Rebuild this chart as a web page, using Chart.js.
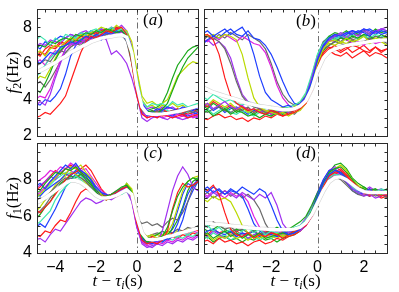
<!DOCTYPE html>
<html>
<head>
<meta charset="utf-8">
<script src="https://cdn.jsdelivr.net/npm/chart.js"></script>
<style>
	body{margin:0;background:#fff;width:399px;height:292px;overflow:hidden;position:relative}
	.box{position:absolute}
</style>
</head>
<body>
<div class="box" style="left:0;top:0;width:201px;height:140px"><canvas id="pa"></canvas></div>
<div class="box" style="left:200px;top:0;width:190px;height:140px"><canvas id="pb"></canvas></div>
<div class="box" style="left:0;top:138px;width:201px;height:154px"><canvas id="pc"></canvas></div>
<div class="box" style="left:200px;top:138px;width:190px;height:154px"><canvas id="pd"></canvas></div>

<script>
// time grid (s), shared by every trace
const tGrid = [-5,-4.75,-4.5,-4.25,-4,-3.75,-3.5,-3.25,-3,-2.75,-2.5,-2.25,-2,-1.75,-1.5,-1.25,-1,-0.75,-0.5,-0.25,0,0.25,0.5,0.75,1,1.25,1.5,1.75,2,2.25,2.5,2.75,3];
const xTicks = [-4,-2,0,2];
const yTicksTop = [2,4,6,8];
const yTicksBottom = [4,6,8];

const RED='#ff1a1a', GRN='#1aa81a', BLU='#1f3fff', PUR='#a030f0', AQU='#3ee8b0', LIM='#bada00', GRY='#6a6a6a', MAG='#e020e0';

// (a) f2
const meanA = [5.45,5.6,5.75,5.9,6.05,6.25,6.4,6.6,6.75,6.9,7.05,7.2,7.3,7.4,7.45,7.5,7.55,7.58,7.45,6.6,4.8,3.6,3.25,3.2,3.2,3.22,3.25,3.3,3.35,3.42,3.5,3.58,3.65];
const colorsA = [GRN,RED,BLU,PUR,AQU,LIM,GRY,MAG,RED,GRN,BLU,PUR,AQU,RED,LIM,BLU,MAG,GRY];
const tracesA = [
	[6.8,7.0,6.9,7.2,7.1,7.3,7.4,7.3,7.6,7.5,7.7,7.6,7.8,7.7,7.9,7.8,7.7,7.8,7.5,6.2,4.6,3.5,3.3,3.4,3.2,3.5,3.8,4.5,5.2,5.8,6.3,6.6,6.9],
	[3.0,3.1,3.3,3.2,3.5,3.8,4.2,5.0,5.8,6.6,7.2,7.5,7.4,7.6,7.8,7.7,7.9,8.0,7.6,6.0,4.2,3.2,3.0,3.1,3.0,3.2,3.1,3.0,3.1,3.2,3.0,3.1,3.2],
	[6.2,6.0,6.3,6.6,6.5,6.9,7.0,7.2,7.1,7.3,7.5,7.4,7.6,7.5,7.7,7.6,7.8,7.6,7.3,6.5,5.0,3.8,3.4,3.3,3.5,3.4,3.6,3.5,3.4,3.6,3.5,3.4,3.6],
	[3.6,3.9,3.7,4.3,5.2,6.0,6.8,7.1,7.0,7.3,7.2,7.5,7.4,7.6,7.3,6.5,6.7,6.4,6.0,5.2,4.2,3.0,2.8,3.0,3.1,3.0,2.9,3.1,3.0,2.9,3.0,3.1,3.0],
	[7.2,7.5,7.3,7.0,7.4,7.2,7.6,7.5,7.4,7.7,7.6,7.8,7.9,7.7,7.8,8.0,7.8,7.9,7.7,6.8,5.2,3.9,3.6,3.8,3.7,3.8,3.6,3.9,3.7,3.8,3.6,3.7,3.8],
	[6.5,6.7,6.4,6.8,7.0,6.9,7.2,7.4,7.3,7.6,7.5,7.7,7.8,8.0,7.9,7.8,8.1,7.9,7.8,7.2,5.6,4.2,3.8,3.9,3.7,3.8,4.0,4.6,5.3,5.6,5.9,6.1,6.0],
	[5.8,6.0,6.2,6.1,6.5,6.7,6.6,6.9,7.1,7.0,7.3,7.2,7.5,7.4,7.6,7.5,7.7,7.6,7.2,6.0,4.5,3.4,3.2,3.3,3.4,3.2,3.3,3.4,3.3,3.2,3.4,3.3,3.4],
	[4.0,4.2,4.1,4.6,5.4,6.2,6.8,7.0,7.2,7.1,7.4,7.3,7.6,7.5,7.7,7.6,7.8,7.7,7.4,6.3,4.8,3.4,3.0,3.1,3.0,3.2,3.1,3.0,3.2,3.1,3.0,3.2,3.1],
	[6.6,6.4,6.8,7.0,6.9,7.2,7.1,7.4,7.3,7.5,7.4,7.7,7.6,7.8,7.9,7.7,8.0,7.9,7.7,6.6,4.9,3.5,3.2,3.4,3.3,3.5,3.3,3.4,3.5,3.3,3.4,3.5,3.3],
	[4.6,4.4,4.9,5.5,6.2,6.7,7.0,7.1,7.3,7.2,7.5,7.4,7.6,7.8,7.7,7.9,7.8,7.6,7.5,6.8,5.0,3.6,3.4,3.5,3.6,3.8,4.4,5.2,5.9,6.3,6.7,6.9,7.0],
	[3.8,3.7,4.0,3.9,4.2,4.6,5.4,6.4,7.0,7.2,7.1,7.4,7.5,7.3,7.6,7.7,7.5,7.8,7.4,6.2,4.5,3.3,3.1,3.2,3.1,3.3,3.2,3.1,3.3,3.2,3.1,3.2,3.3],
	[6.9,7.1,7.0,7.3,7.2,7.1,7.4,7.6,7.5,7.7,7.8,7.6,7.8,7.9,7.8,8.0,7.9,8.1,7.8,7.0,5.3,3.8,3.5,3.6,3.4,3.6,3.5,3.6,3.4,3.5,3.6,3.4,3.5],
	[5.2,5.5,5.9,6.3,6.6,6.8,7.0,7.2,7.4,7.3,7.5,7.6,7.5,7.7,7.6,7.8,7.7,7.9,7.6,6.7,5.1,3.7,3.3,3.4,3.3,3.5,3.4,3.3,3.5,3.4,3.3,3.5,3.4],
	[6.3,6.6,6.5,6.9,6.8,7.1,7.0,7.3,7.2,7.5,7.4,7.6,7.7,7.6,7.8,7.7,7.9,7.8,7.6,6.4,4.7,3.4,3.1,3.2,3.3,3.1,3.2,3.3,3.2,3.1,3.3,3.2,3.1],
	[5.0,5.3,5.2,5.7,6.3,6.8,7.0,7.2,7.1,7.4,7.3,7.5,7.6,7.5,7.7,7.6,7.8,7.7,7.5,6.9,5.5,4.0,3.6,3.7,3.5,3.7,3.6,3.8,3.6,3.7,3.5,3.6,3.7],
	[7.0,6.8,7.2,7.0,7.3,7.5,7.4,7.6,7.5,7.7,7.6,7.8,7.7,7.9,7.8,7.9,8.0,7.8,7.5,6.5,4.9,3.6,3.3,3.2,3.4,3.3,3.2,3.4,3.3,3.2,3.4,3.3,3.2],
	[6.0,6.2,5.9,6.4,6.7,6.6,7.0,7.2,7.1,7.3,7.5,7.4,7.6,7.5,7.7,7.8,7.6,7.8,7.4,6.3,4.6,3.3,3.0,3.1,3.2,3.0,3.1,3.2,3.0,3.1,3.2,3.0,3.1],
	[4.8,5.0,4.7,5.1,5.6,6.1,6.6,6.9,7.1,7.3,7.2,7.4,7.3,7.5,7.4,7.6,7.5,7.7,7.3,6.1,4.4,3.3,3.1,3.3,3.2,3.4,3.3,3.2,3.4,3.3,3.2,3.3,3.4]
];

// (b) f2
const meanB = [4.7,4.55,4.4,4.3,4.2,4.1,4.0,3.9,3.8,3.72,3.65,3.6,3.55,3.5,3.45,3.45,3.5,3.65,3.95,4.6,5.6,6.3,6.65,6.8,6.9,7.0,7.05,7.1,7.15,7.2,7.25,7.28,7.3];
const colorsB = [BLU,RED,LIM,GRY,GRN,PUR,AQU,RED,BLU,LIM,GRY,MAG,PUR,GRN,AQU,RED,GRY,BLU];
const tracesB = [
	[7.6,7.8,7.5,7.7,7.9,7.6,7.8,8.0,7.5,6.5,5.3,4.4,4.0,3.8,3.6,3.7,3.5,3.8,4.2,5.0,6.2,7.0,7.4,7.6,7.5,7.7,7.6,7.8,7.7,7.5,7.8,7.6,7.7],
	[7.5,7.6,7.3,6.5,5.2,4.2,3.8,3.6,3.4,3.5,3.3,3.2,3.4,3.3,3.1,3.2,3.3,3.5,3.8,4.6,5.8,6.6,6.9,6.8,6.6,6.8,7.0,6.9,6.7,6.6,6.9,6.7,6.8],
	[7.7,7.5,7.6,7.4,7.6,7.5,7.3,6.5,5.2,4.1,3.6,3.4,3.3,3.2,3.3,3.1,3.3,3.4,3.8,4.7,6.0,6.8,7.2,7.3,7.1,7.4,7.2,7.3,7.5,7.2,7.4,7.3,7.5],
	[7.3,7.5,7.4,7.2,6.8,6.0,5.0,4.2,3.8,3.6,3.5,3.3,3.4,3.2,3.3,3.4,3.2,3.5,3.9,4.8,6.1,6.8,7.0,7.2,7.1,7.0,7.3,7.1,7.2,7.4,7.2,7.3,7.1],
	[3.2,3.4,3.1,3.3,3.5,3.2,3.4,3.3,3.1,3.2,3.0,3.2,3.1,3.3,3.2,3.4,3.5,3.6,4.0,4.8,5.9,6.7,7.0,7.2,7.4,7.3,7.5,7.4,7.6,7.5,7.3,7.6,7.4],
	[3.6,3.8,3.5,3.7,3.9,3.6,3.5,3.7,3.4,3.5,3.3,3.4,3.2,3.3,3.4,3.3,3.5,3.7,4.2,5.2,6.3,7.0,7.3,7.5,7.6,7.4,7.7,7.5,7.8,7.6,7.7,7.9,7.8],
	[4.2,4.0,4.3,4.1,3.9,4.0,3.8,3.7,3.9,3.6,3.7,3.5,3.6,3.4,3.5,3.6,3.7,3.9,4.4,5.4,6.5,7.1,7.4,7.3,7.5,7.4,7.6,7.3,7.5,7.4,7.6,7.5,7.4],
	[3.0,2.9,3.1,3.2,3.0,3.1,2.9,3.0,2.8,3.0,2.9,3.1,3.0,3.2,3.1,3.3,3.4,3.6,3.9,4.5,5.5,6.3,6.7,6.5,6.4,6.6,6.3,6.5,6.7,6.4,6.6,6.5,6.3],
	[7.0,7.3,7.5,7.4,7.7,7.9,7.6,7.5,7.8,7.4,7.3,7.0,6.5,5.8,5.0,4.3,3.8,3.7,4.0,4.9,6.1,6.9,7.3,7.5,7.4,7.6,7.8,7.7,7.9,7.8,7.6,7.8,7.7],
	[3.9,3.7,4.0,3.8,3.6,3.8,3.5,3.6,3.3,3.5,3.4,3.3,3.5,3.4,3.6,3.5,3.6,3.8,4.3,5.0,6.2,6.9,7.1,7.0,7.2,7.1,7.3,7.0,7.2,7.1,7.3,7.2,7.0],
	[3.4,3.3,3.5,3.6,3.4,3.3,3.5,3.4,3.6,3.3,3.4,3.2,3.3,3.5,3.4,3.2,3.4,3.6,4.1,5.1,6.4,7.2,7.4,7.6,7.5,7.3,7.4,7.6,7.5,7.3,7.5,7.4,7.6],
	[7.4,7.2,7.5,7.3,7.6,7.4,7.2,7.5,7.3,7.1,7.0,6.6,5.8,4.8,4.1,3.7,3.5,3.7,4.1,5.0,6.2,7.0,7.3,7.2,7.4,7.3,7.1,7.2,7.0,7.3,7.1,7.2,7.4],
	[7.1,7.3,7.0,7.2,6.9,6.3,5.2,4.3,3.9,3.7,3.5,3.6,3.4,3.5,3.3,3.4,3.5,3.7,4.1,5.0,6.2,7.0,7.4,7.5,7.7,7.6,7.8,7.7,7.9,7.7,7.8,7.9,8.0],
	[3.7,3.5,3.8,3.6,3.4,3.6,3.3,3.5,3.4,3.2,3.4,3.3,3.5,3.3,3.4,3.5,3.6,3.8,4.2,5.1,6.3,7.1,7.5,7.7,7.6,7.8,7.5,7.7,7.8,7.6,7.9,7.7,7.8],
	[3.3,3.5,3.2,3.4,3.6,3.3,3.2,3.4,3.3,3.1,3.3,3.2,3.1,3.3,3.2,3.3,3.5,3.8,4.3,5.3,6.5,7.2,7.5,7.4,7.6,7.5,7.7,7.6,7.5,7.7,7.6,7.8,7.7],
	[3.8,3.6,3.9,3.7,3.5,3.7,3.4,3.6,3.5,3.3,3.5,3.4,3.2,3.4,3.3,3.5,3.6,3.7,4.0,4.7,5.7,6.5,6.8,7.0,6.7,6.9,6.6,6.8,7.0,6.7,6.9,6.6,6.8],
	[7.2,7.5,7.3,7.6,7.4,7.7,7.5,7.3,7.6,7.4,7.2,6.8,6.0,5.0,4.3,3.9,3.7,3.8,4.2,5.1,6.3,7.0,7.3,7.4,7.2,7.5,7.3,7.4,7.6,7.3,7.5,7.4,7.3],
	[3.5,3.7,3.4,3.6,3.3,3.5,3.6,3.4,3.2,3.4,3.5,3.3,3.4,3.2,3.3,3.4,3.5,3.7,4.1,5.0,6.2,7.0,7.3,7.6,7.5,7.7,7.8,7.6,7.8,7.9,7.7,7.9,7.8]
];

// (c) f1
const meanC = [6.7,6.85,7.0,7.2,7.4,7.6,7.8,7.95,7.95,7.85,7.65,7.4,7.15,7.0,7.0,7.05,7.15,7.3,7.45,7.2,6.0,5.1,4.75,4.72,4.75,4.8,4.9,4.95,5.05,5.12,5.2,5.28,5.35];
const colorsC = [GRN,RED,BLU,PUR,AQU,LIM,GRY,MAG,RED,GRN,BLU,PUR,AQU,RED,LIM,BLU,MAG,GRY];
const tracesC = [
	[7.2,7.4,7.8,8.1,8.4,8.3,8.6,8.5,8.7,8.4,8.2,7.8,7.3,7.0,7.1,7.2,7.4,7.6,7.7,7.3,5.9,4.9,4.6,4.7,4.8,4.9,5.4,6.3,7.1,7.6,7.9,8.1,8.0],
	[5.0,4.9,5.2,5.1,5.5,5.8,5.7,6.2,6.8,7.3,7.5,7.4,7.2,7.1,6.9,7.2,7.3,7.5,7.6,7.0,5.6,4.7,4.5,4.6,4.5,4.7,5.2,6.4,7.3,7.8,7.6,7.7,7.9],
	[7.6,7.8,7.5,7.9,8.2,8.5,8.8,8.6,8.9,8.5,8.3,8.0,7.6,7.3,7.2,7.0,7.3,7.5,7.6,7.1,5.8,4.8,4.6,4.5,4.7,4.6,4.8,5.0,5.6,6.4,7.2,7.7,8.0],
	[4.7,4.8,4.6,5.0,5.3,5.2,5.6,6.0,6.4,6.8,7.0,6.9,6.7,6.8,7.0,7.2,7.3,7.4,7.6,6.9,5.4,4.5,4.3,4.4,4.5,5.2,6.3,7.4,8.2,8.7,8.3,7.6,7.4],
	[5.5,5.7,6.0,6.3,6.9,7.3,7.6,7.9,8.2,8.0,7.7,7.5,7.2,6.9,7.0,7.1,7.3,7.2,7.4,7.0,5.7,4.9,4.7,4.8,4.7,4.9,4.8,5.0,4.9,5.1,5.0,5.2,5.4],
	[7.0,7.2,7.5,7.8,8.1,8.4,8.3,8.7,8.6,8.8,8.4,8.1,7.6,7.2,6.9,7.0,7.2,7.4,7.8,7.5,6.2,5.1,4.9,5.0,4.8,5.0,5.1,5.6,6.5,7.4,7.9,8.1,8.2],
	[6.8,7.0,6.9,7.3,7.6,7.9,8.1,8.0,8.2,8.1,7.9,7.6,7.3,7.1,7.0,7.2,7.3,7.5,7.6,7.2,5.9,5.6,5.7,5.5,5.6,5.4,5.7,5.9,5.8,6.2,6.8,7.6,7.9],
	[7.8,8.0,8.2,8.5,8.4,8.7,8.6,8.9,8.7,8.5,8.6,8.2,7.8,7.4,7.2,7.1,7.2,7.4,7.5,7.0,5.5,4.6,4.4,4.5,4.6,4.5,4.7,4.6,4.8,4.7,4.9,4.8,5.0],
	[6.4,6.2,6.5,6.8,7.2,7.6,8.0,8.3,8.4,8.6,8.8,8.5,8.0,7.5,7.2,7.0,7.1,7.3,7.5,7.2,5.8,4.8,4.7,4.9,4.8,5.0,4.9,5.1,5.0,5.2,5.1,5.3,5.2],
	[5.8,6.1,6.5,6.8,7.3,7.8,8.0,8.2,8.1,8.3,8.0,7.7,7.4,7.2,7.0,7.1,7.3,7.4,7.8,7.4,5.9,5.0,4.8,4.9,5.0,5.2,5.0,5.3,5.8,6.5,7.4,7.9,8.1],
	[7.3,7.1,7.4,7.6,7.8,8.0,8.3,8.2,8.5,8.3,8.1,7.9,7.5,7.2,7.0,7.1,7.2,7.5,7.7,7.1,5.7,4.7,4.5,4.7,4.6,4.8,4.7,4.9,5.1,5.8,6.8,7.4,7.9],
	[7.5,7.7,7.9,8.2,8.0,8.4,8.3,8.6,8.8,8.5,8.3,8.0,7.4,7.1,7.0,6.9,7.1,7.3,7.4,6.8,5.4,4.6,4.4,4.3,4.5,4.4,4.6,4.5,4.7,4.6,4.8,4.7,4.9],
	[6.9,7.2,7.4,7.7,8.0,8.2,8.4,8.3,8.5,8.2,8.0,7.7,7.3,7.0,6.9,7.1,7.2,7.4,7.5,7.0,5.6,4.7,4.5,4.6,4.7,4.6,4.8,4.7,4.9,4.8,5.0,4.9,5.1],
	[7.4,7.6,7.9,8.2,8.5,8.3,8.6,8.8,8.6,8.4,8.1,7.8,7.4,7.2,7.1,7.0,7.2,7.4,7.6,7.2,5.7,4.8,4.6,4.7,4.6,4.8,4.7,4.9,4.8,5.0,4.9,5.1,5.0],
	[6.2,6.5,6.9,7.3,7.7,8.0,8.2,8.4,8.3,8.1,7.8,7.6,7.3,7.1,7.0,7.1,7.3,7.5,7.7,7.3,5.9,5.0,4.8,4.9,5.0,4.9,5.1,5.0,5.2,5.1,5.3,5.2,5.4],
	[5.3,5.6,5.4,5.9,6.4,7.0,7.6,8.0,8.3,8.5,8.3,8.0,7.6,7.3,7.1,7.2,7.3,7.5,7.6,7.1,5.6,4.8,4.5,4.6,4.5,4.7,4.8,5.4,6.3,7.2,7.8,7.6,7.9],
	[7.1,7.3,7.6,7.9,8.1,8.4,8.6,8.5,8.3,8.1,7.9,7.5,7.2,7.0,7.1,7.2,7.4,7.5,7.7,7.2,5.8,4.9,4.7,4.8,4.7,4.9,4.8,5.0,4.9,5.1,5.0,5.2,5.1],
	[6.0,6.3,6.6,7.0,7.4,7.7,8.0,8.1,8.0,7.8,7.6,7.4,7.2,7.0,6.9,7.0,7.2,7.3,7.5,7.1,5.9,5.1,4.9,5.0,5.1,5.0,5.2,5.1,5.3,5.2,5.4,5.3,5.5]
];

// (d) f1
const meanD = [5.65,5.62,5.58,5.55,5.52,5.48,5.45,5.42,5.38,5.35,5.32,5.3,5.28,5.27,5.27,5.28,5.3,5.4,5.65,6.1,6.75,7.4,7.9,8.12,8.15,8.0,7.75,7.5,7.35,7.3,7.3,7.3,7.3];
const colorsD = [BLU,RED,GRN,PUR,AQU,LIM,GRY,RED,BLU,MAG,GRN,LIM,PUR,BLU,AQU,RED,GRY,GRN];
const tracesD = [
	[7.4,7.6,7.3,7.5,7.2,7.4,7.3,7.6,7.4,7.2,7.5,7.3,6.6,5.8,5.2,5.0,5.1,5.3,5.6,6.2,7.0,7.8,8.3,8.5,8.4,8.1,7.7,7.4,7.3,7.5,7.2,7.4,7.3],
	[7.6,7.4,7.7,7.2,6.2,5.3,5.0,4.9,5.1,4.8,5.0,4.9,5.1,5.0,4.8,5.0,5.2,5.3,5.5,6.0,6.8,7.6,8.2,8.4,8.6,8.3,7.9,7.6,7.4,7.2,7.3,7.1,7.2],
	[4.9,5.1,4.8,5.0,5.2,4.9,5.1,4.8,5.0,4.9,5.1,4.8,4.9,5.0,5.1,5.0,5.2,5.4,5.7,6.3,7.1,7.8,8.4,8.6,8.7,8.4,8.0,7.6,7.5,7.3,7.4,7.2,7.4],
	[7.2,7.0,7.3,7.1,7.4,7.2,7.0,7.3,7.1,6.9,7.2,7.0,7.3,6.6,5.6,5.2,5.3,5.2,5.5,6.0,6.8,7.5,8.0,8.2,8.1,7.9,7.5,7.3,7.1,7.2,7.0,7.1,7.3],
	[5.3,5.5,5.2,5.4,5.1,5.3,5.0,5.2,5.4,5.1,5.3,5.0,5.2,5.1,5.3,5.2,5.4,5.5,5.8,6.4,7.0,7.6,8.1,8.3,8.2,8.0,7.6,7.3,7.4,7.2,7.3,7.5,7.4],
	[7.0,6.8,7.1,6.9,7.0,6.8,6.2,5.5,5.1,4.9,5.0,4.8,4.9,5.1,4.9,5.0,5.2,5.3,5.6,6.1,6.9,7.7,8.3,8.6,8.8,8.5,8.0,7.7,7.5,7.3,7.4,7.2,7.3],
	[5.6,5.4,5.7,5.5,5.3,5.4,5.2,5.3,5.1,5.2,5.0,5.1,5.2,5.0,5.1,5.3,5.2,5.4,5.7,6.2,6.9,7.5,8.0,8.2,8.0,7.7,7.4,7.2,7.1,7.3,7.1,7.2,7.0],
	[4.6,4.7,4.5,4.8,4.6,4.7,4.5,4.6,4.4,4.6,4.7,4.5,4.6,4.8,4.7,4.9,5.0,5.2,5.5,6.0,6.7,7.4,8.0,8.3,8.5,8.2,7.8,7.5,7.3,7.1,7.2,7.0,7.1],
	[5.0,5.2,5.3,5.1,5.0,5.2,4.9,5.1,5.0,5.2,4.9,5.1,5.0,4.9,5.1,5.0,5.1,5.3,5.7,6.3,7.2,8.0,8.5,8.6,8.3,7.9,7.4,7.2,7.3,7.1,7.4,7.3,7.2],
	[7.3,7.1,7.4,7.2,7.0,7.3,7.1,7.2,6.8,6.0,5.4,5.1,5.0,5.2,5.1,5.0,5.2,5.4,5.6,6.2,7.0,7.7,8.2,8.4,8.3,8.0,7.6,7.4,7.2,7.4,7.3,7.2,7.4],
	[5.4,5.2,5.3,5.5,5.3,5.1,5.3,5.2,5.4,5.2,5.3,5.1,5.2,5.4,5.2,5.3,5.5,5.7,6.0,6.6,7.3,7.9,8.3,8.5,8.4,8.1,7.7,7.5,7.6,7.4,7.5,7.3,7.5],
	[4.8,5.0,4.7,4.9,4.8,5.0,4.8,4.9,4.7,4.9,4.8,5.0,4.9,4.8,5.0,4.9,5.1,5.2,5.6,6.1,6.9,7.6,8.1,8.3,8.4,8.2,7.8,7.5,7.2,7.4,7.3,7.4,7.2],
	[5.1,4.9,5.2,5.0,4.8,5.0,4.9,5.1,4.8,5.0,5.1,4.9,5.0,5.2,5.0,5.1,5.3,5.5,5.9,6.5,7.3,8.0,8.5,8.7,8.5,8.2,7.8,7.5,7.4,7.6,7.4,7.5,7.3],
	[7.5,7.3,7.6,7.4,7.2,7.5,7.3,7.1,6.4,5.6,5.2,5.0,5.1,4.9,5.0,5.2,5.1,5.3,5.6,6.1,6.9,7.6,8.1,8.3,8.2,7.9,7.5,7.3,7.2,7.4,7.2,7.3,7.1],
	[5.0,4.8,5.1,4.9,5.0,4.7,4.9,5.0,4.8,4.9,4.7,4.9,4.8,5.0,4.9,5.1,5.2,5.4,5.8,6.4,7.2,7.9,8.3,8.4,8.2,7.9,7.5,7.4,7.3,7.2,7.3,7.4,7.2],
	[5.2,5.0,5.3,5.1,5.2,5.0,5.2,5.0,5.1,4.9,5.0,5.2,5.1,5.0,5.2,5.1,5.3,5.4,5.8,6.3,7.1,7.7,8.2,8.4,8.3,8.1,7.6,7.4,7.3,7.5,7.3,7.4,7.2],
	[7.1,7.3,7.0,7.2,7.4,7.1,7.3,7.0,7.2,6.9,6.4,5.6,5.1,5.0,5.2,5.0,5.1,5.3,5.6,6.2,7.0,7.6,8.0,8.2,8.1,7.8,7.5,7.3,7.2,7.1,7.3,7.2,7.1],
	[4.7,4.9,4.6,4.8,4.9,4.7,4.8,4.6,4.8,4.7,4.9,4.7,4.8,4.6,4.8,4.9,5.0,5.2,5.6,6.2,7.0,7.8,8.4,8.8,8.9,8.6,8.1,7.8,7.6,7.4,7.5,7.3,7.4]
];

// rich text: parts = [{t, i (italic), s (size), dy}]
function rich(ctx, parts, x, y, rot) {
	const fnt = p => (p.i ? 'italic ' : '') + (p.s || 17) + 'px "Liberation Serif", serif';
	ctx.save();
	ctx.translate(x, y);
	if (rot) ctx.rotate(-Math.PI / 2);
	let w = 0;
	parts.forEach(p => { ctx.font = fnt(p); p.w = ctx.measureText(p.t).width; w += p.w; });
	let cx = -w / 2;
	ctx.textBaseline = 'middle';
	ctx.fillStyle = '#000';
	parts.forEach(p => { ctx.font = fnt(p); ctx.fillText(p.t, cx, p.dy || 0); cx += p.w; });
	ctx.restore();
}

const framePlugin = {
	id: 'frame',
	beforeDatasetsDraw(chart) {
		const {ctx, chartArea: a, scales: {x}} = chart;
		const px = Math.round(x.getPixelForValue(0)) + 0.5;
		ctx.save();
		ctx.strokeStyle = '#707070';
		ctx.lineWidth = 1;
		ctx.setLineDash([6, 3, 1.5, 3]);
		ctx.beginPath(); ctx.moveTo(px, a.top); ctx.lineTo(px, a.bottom); ctx.stroke();
		ctx.restore();
	},
	afterDraw(chart, args, o) {
		const {ctx, chartArea: a, scales: {x, y}} = chart;
		const L = Math.round(a.left) + 0.5, R = Math.round(a.right) + 0.5;
		const T = Math.round(a.top) + 0.5, B = Math.round(a.bottom) + 0.5;
		ctx.save();
		ctx.strokeStyle = '#2b2b2b';
		ctx.lineWidth = 1;
		ctx.strokeRect(L, T, R - L, B - T);
		ctx.beginPath();
		for (let v = Math.ceil(x.min * 2) / 2; v <= x.max; v += 0.5) {
			const p = Math.round(x.getPixelForValue(v)) + 0.5;
			ctx.moveTo(p, B); ctx.lineTo(p, B - 3);
			ctx.moveTo(p, T); ctx.lineTo(p, T + 3);
		}
		for (let v = Math.ceil(y.min * 2) / 2; v <= y.max; v += 0.5) {
			const p = Math.round(y.getPixelForValue(v)) + 0.5;
			ctx.moveTo(L, p); ctx.lineTo(L + 3, p);
			ctx.moveTo(R, p); ctx.lineTo(R - 3, p);
		}
		ctx.stroke();
		ctx.restore();
		// panel letter
		rich(ctx, [{t:'('}, {t:o.letter, i:1}, {t:')'}], o.lx, o.ly);
		if (o.yTitle) rich(ctx, [{t:'f', i:1}, {t:o.yTitle, s:12, dy:4}, {t:'(Hz)'}], 14, (a.top + a.bottom) / 2, true);
		if (o.xTitle) rich(ctx, [{t:'t', i:1}, {t:' \u2212 '}, {t:'\u03c4', i:1}, {t:'i', i:1, s:12, dy:4}, {t:'(s)'}], (a.left + a.right) / 2, a.bottom + 29);
	}
};

const tickFont = {family: '"Liberation Sans", Arial, sans-serif', size: 16};

function makePanel(id, mean, traces, colors, yMin, yMax, yTicks, o) {
	const pts = arr => arr.map((v, i) => ({x: tGrid[i], y: v}));
	// white mean on top, a very faint halo at the very back
	const datasets = [
		{data: pts(mean), borderColor: '#ffffff', borderWidth: 3.4, order: -1},
		{data: pts(mean), borderColor: 'rgba(160,160,160,0.45)', borderWidth: 4.6, order: 1000}
	];
	traces.forEach((tr, k) => datasets.push({
		data: pts(tr), borderColor: colors[k % colors.length], borderWidth: 1.2, order: k
	}));
	datasets.forEach(d => { d.pointRadius = 0; d.tension = 0; d.fill = false; d.clip = 0; });

	const left = !!yTicks, bottom = !!o.xTitle;
	new Chart(document.getElementById(id), {
		type: 'line',
		data: {datasets},
		plugins: [framePlugin],
		options: {
			responsive: true,
			maintainAspectRatio: false,
			animation: false,
			events: [],
			layout: {padding: {left: left ? 0 : 4, right: 3, top: o.top, bottom: bottom ? 0 : 4}},
			scales: {
				x: {
					type: 'linear', min: -4.9, max: 3,
					display: bottom,
					afterFit: s => { if (bottom) s.height = 39; s.paddingLeft = 0; s.paddingRight = 0; },
					afterBuildTicks: s => { s.ticks = xTicks.map(v => ({value: v})); },
					grid: {display: false, drawTicks: false},
					border: {display: false},
					ticks: {padding: 5, color: '#000', font: tickFont,
						callback: v => v < 0 ? '\u2212' + (-v) : '' + v}
				},
				y: {
					type: 'linear', min: yMin, max: yMax,
					display: left,
					afterFit: s => { if (left) s.width = 37; s.paddingTop = 0; s.paddingBottom = 0; },
					afterBuildTicks: s => { if (yTicks) s.ticks = yTicks.map(v => ({value: v})); },
					grid: {display: false, drawTicks: false},
					border: {display: false},
					ticks: {padding: 5, color: '#000', font: tickFont}
				}
			},
			plugins: {
				legend: {display: false},
				tooltip: {enabled: false},
				frame: o
			}
		}
	});
}

makePanel('pa', meanA, tracesA, colorsA, 2, 9, yTicksTop, {letter:'a', lx:153, ly:21, top:9, yTitle:'2'});
makePanel('pb', meanB, tracesB, colorsB, 2, 9, null, {letter:'b', lx:106, ly:22, top:9});
makePanel('pc', meanC, tracesC, colorsC, 4, 10, yTicksBottom, {letter:'c', lx:153, ly:16, top:5, yTitle:'1', xTitle:true});
makePanel('pd', meanD, tracesD, colorsD, 4, 10, null, {letter:'d', lx:106, ly:16, top:5, xTitle:true});
</script>
</body>
</html>
